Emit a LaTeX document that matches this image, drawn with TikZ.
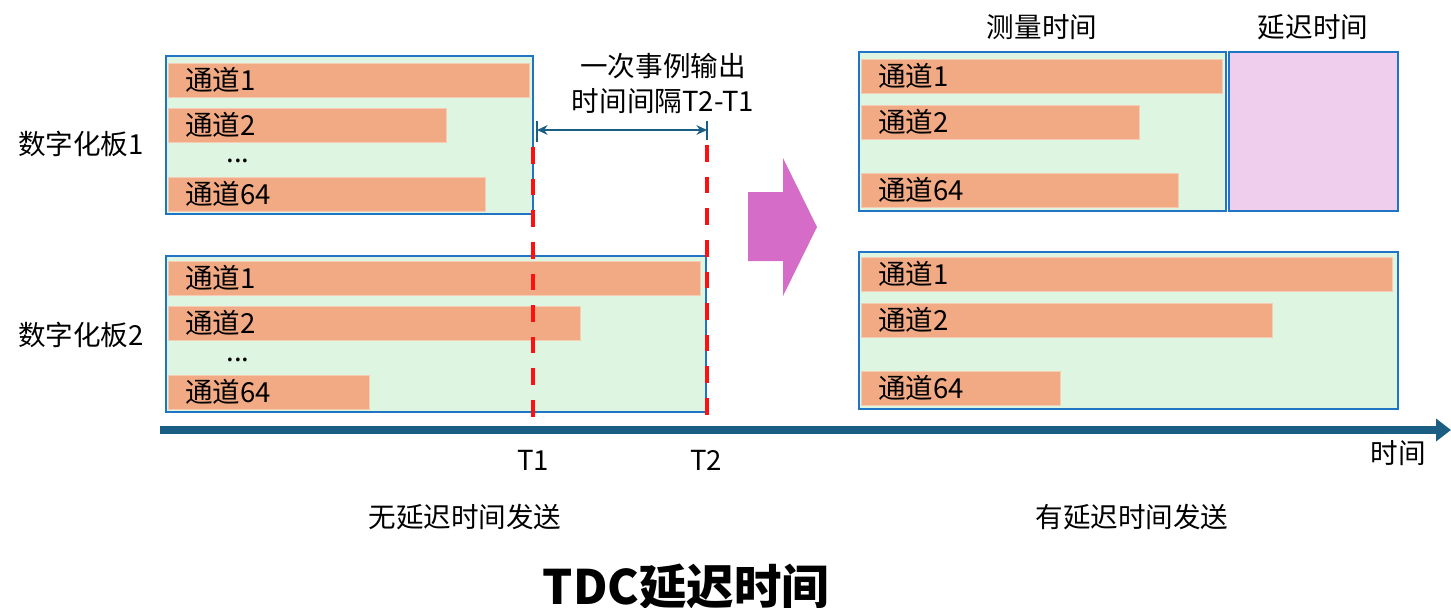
\documentclass[tikz,border=0pt]{standalone}
\usepackage{fontspec}
\setmainfont{Noto Sans CJK SC}
\usetikzlibrary{arrows.meta}
\definecolor{boxblue}{HTML}{1F74C4}
\definecolor{boxgreen}{HTML}{DEF5E1}
\definecolor{barfill}{HTML}{F2AA84}
\definecolor{pinkfill}{HTML}{EFCDEC}
\definecolor{axisblue}{HTML}{1B5E84}
\definecolor{arrowmag}{HTML}{D56CC8}
\definecolor{dashred}{HTML}{FF1010}
\begin{document}
\begin{tikzpicture}[x=0.02cm,y=-0.02cm,
  font=\fontsize{15.7}{18}\selectfont,
  panel/.style={draw=boxblue, line width=1.4pt, fill=boxgreen},
  pinkpanel/.style={draw=boxblue, line width=1.4pt, fill=pinkfill},
  bar/.style={fill=barfill, draw=barfill!60!white, line width=0.4pt},
  lbl/.style={anchor=west, inner sep=0pt},
  txt/.style={inner sep=0pt},
  dots/.style={inner sep=0pt, anchor=base, text height=2.5pt, text depth=0pt},
  reddash/.style={draw=dashred, line width=2.6pt, dash pattern=on 9.5pt off 8.5pt},
  dim/.style={draw=axisblue, line width=1.1pt},
  axis/.style={draw=axisblue, line width=4pt, -{Triangle[length=8.5pt,width=12.5pt]}}
]
\useasboundingbox (0,0) rectangle (1451,608);

% ---------- left panel, board 1 ----------
\draw[panel] (166,56) rectangle (533,214);
\fill[bar] (168,63) rectangle (529,97);
\node[lbl] (l1c1) at (185,80) {通道1};
\fill[bar] (168,108) rectangle (446,142);
\node[lbl] (l1c2) at (185,125) {通道2};
\node[dots] (l1d) at (238,163) {...};
\fill[bar] (168,177) rectangle (485,211);
\node[lbl] (l1c64) at (185,194) {通道64};

% ---------- left panel, board 2 ----------
\draw[panel] (166,256) rectangle (706,412);
\fill[bar] (168,261) rectangle (700,295);
\node[lbl] (l2c1) at (185,278) {通道1};
\fill[bar] (168,306) rectangle (580,340);
\node[lbl] (l2c2) at (185,323) {通道2};
\node[dots] (l2d) at (238,361) {...};
\fill[bar] (168,375) rectangle (369,409);
\node[lbl] (l2c64) at (185,392) {通道64};

\node[txt] (b1) at (81,144) {数字化板1};
\node[txt] (b2) at (81,335) {数字化板2};

% ---------- time marks ----------
\coordinate (t1top) at (533,147);
\coordinate (t1bot) at (533,428);
\coordinate (t2top) at (707,145);
\coordinate (t2bot) at (707,428);
\draw[reddash] (t1top) -- (t1bot);
\draw[reddash] (t2top) -- (t2bot);

\coordinate (d1) at (537,130);
\coordinate (d2) at (707,130);
\draw[dim] (537,121) -- (537,142);
\draw[dim] (707,121) -- (707,140);
\draw[dim, {Stealth[length=6pt,width=5.5pt]}-{Stealth[length=6pt,width=5.5pt]}] (d1) -- (d2);

\node[txt] (ev1) at (663,66) {一次事例输出};
\node[txt] (ev2) at (663,101) {时间间隔T2-T1};

% ---------- big arrow ----------
\fill[arrowmag] (748,192) -- (783,192) -- (783,158) -- (817,227) -- (783,296) -- (783,261) -- (748,261) -- cycle;

% ---------- right panel, top ----------
\draw[panel] (859,52) rectangle (1226,211);
\draw[pinkpanel] (1229,52) rectangle (1398,211);
\fill[bar] (861,59) rectangle (1222,93);
\node[lbl] (r1c1) at (878,76) {通道1};
\fill[bar] (861,105) rectangle (1139,139);
\node[lbl] (r1c2) at (878,122) {通道2};
\fill[bar] (861,173) rectangle (1178,207);
\node[lbl] (r1c64) at (878,190) {通道64};
\node[txt] (meas) at (1042,27) {测量时间};
\node[txt] (dely) at (1313,27) {延迟时间};

% ---------- right panel, bottom ----------
\draw[panel] (859,252) rectangle (1398,409);
\fill[bar] (861,257) rectangle (1392,291);
\node[lbl] (r2c1) at (878,274) {通道1};
\fill[bar] (861,303) rectangle (1272,337);
\node[lbl] (r2c2) at (878,320) {通道2};
\fill[bar] (861,371) rectangle (1060,405);
\node[lbl] (r2c64) at (878,388) {通道64};

% ---------- axis ----------
\coordinate (ax0) at (160,430);
\coordinate (ax1) at (1451,430);
\draw[axis] (ax0) -- (ax1);
\node[txt] (T1) at (533,460) {T1};
\node[txt] (T2) at (706,460) {T2};
\node[txt] (tm) at (1398,453) {时间};

\node[txt] (cap1) at (465,517) {无延迟时间发送};
\node[txt] (cap2) at (1132,517) {有延迟时间发送};

\node[txt, font=\fontsize{27}{32}\selectfont\bfseries] (title) at (686,587) {TDC延迟时间};
\end{tikzpicture}
\end{document}
